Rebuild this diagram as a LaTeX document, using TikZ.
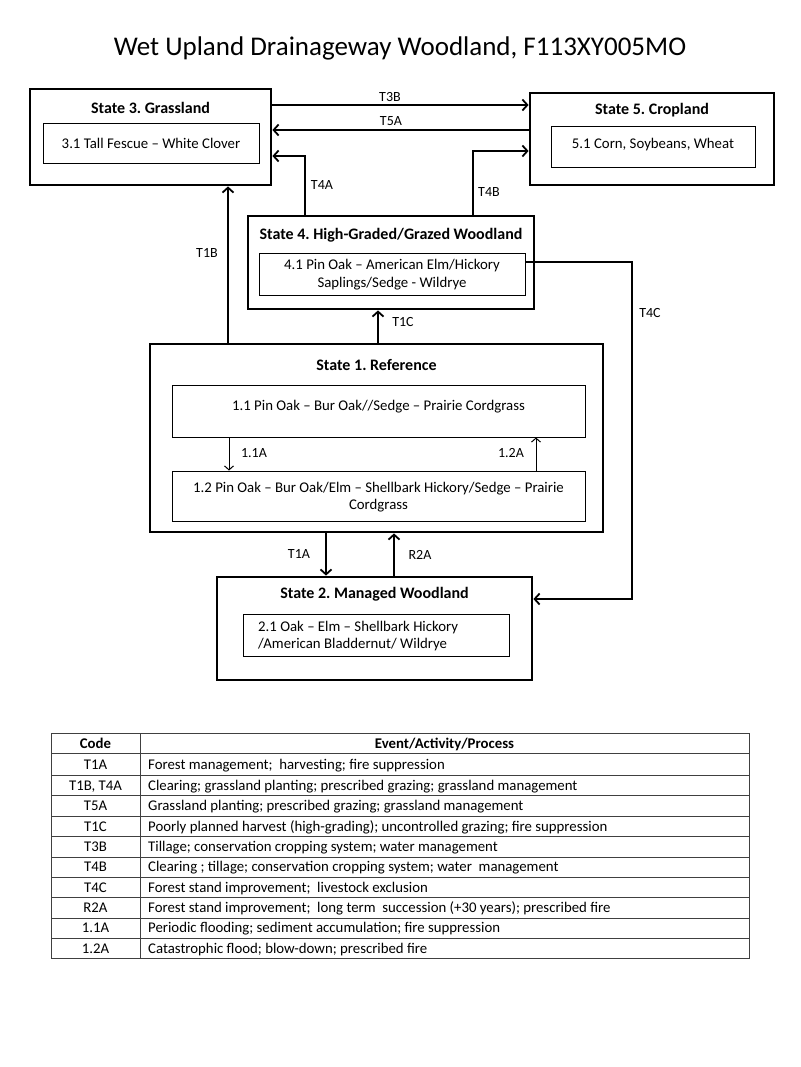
\documentclass[tikz,border=0pt]{standalone}
\usepackage{fontspec}
\setmainfont{Carlito}
\usetikzlibrary{arrows.meta,calc}
\frenchspacing
\begin{document}
\begin{tikzpicture}[x=1pt,y=-1pt,
  statebox/.style={draw, line width=2.8pt, rectangle, inner sep=0pt},
  innerbox/.style={draw, line width=0.9pt, rectangle, inner sep=0pt},
  stitle/.style={font=\fontsize{16}{18}\selectfont\bfseries\frenchspacing, inner sep=0pt, anchor=base, yshift=-5.2pt},
  itext/.style={font=\fontsize{14.8}{17.5}\selectfont\frenchspacing, inner sep=0pt, align=center},
  conn/.style={line width=2pt, -{Straight Barb[length=5pt,width=11pt,line width=1.8pt]}},
  thinconn/.style={line width=1pt, -{Straight Barb[length=4pt,width=9pt,line width=1pt]}},
  lbl/.style={font=\fontsize{14}{16}\selectfont, inner sep=0pt, anchor=base, yshift=-4.5pt},
  tline/.style={line width=0.9pt, draw=black!75},
  ttext/.style={font=\fontsize{14.8}{16}\selectfont\frenchspacing, inner sep=0pt, anchor=base, yshift=-4.8pt},
]
\useasboundingbox (0,0) rectangle (800,1067);
\fill[white] (0,0) rectangle (800,1067);

% title
\node[font=\fontsize{27}{30}\selectfont, inner sep=0pt, anchor=base, yshift=-8.7pt] (title) at (400,47) {Wet Upland Drainageway Woodland, F113XY005MO};

% state boxes
\node[statebox, minimum width=241pt, minimum height=96pt] (s3) at (150.5,137) {};
\node[statebox, minimum width=244pt, minimum height=92pt] (s5) at (652,139) {};
\node[statebox, minimum width=286pt, minimum height=93pt] (s4) at (391,262.5) {};
\node[statebox, minimum width=453pt, minimum height=188pt] (s1) at (376.5,438) {};
\node[statebox, minimum width=315pt, minimum height=103pt] (s2) at (374.5,628.5) {};

% titles
\node[stitle] (t3) at (150.5,108) {State 3. Grassland};
\node[stitle] (t5) at (652,109) {State 5. Cropland};
\node[stitle] (t4) at (391,234) {State 4. High-Graded/Grazed Woodland};
\node[stitle] (t1) at (376.5,365) {State 1. Reference};
\node[stitle] (t2) at (374.5,593) {State 2. Managed Woodland};

% inner boxes
\node[innerbox, minimum width=216pt, minimum height=40pt] (i3) at (151,143) {};
\node[innerbox, minimum width=204pt, minimum height=41pt] (i5) at (653,146.5) {};
\node[innerbox, minimum width=266pt, minimum height=42pt] (i4) at (392,274) {};
\node[innerbox, minimum width=413pt, minimum height=52pt] (i11) at (378.5,411) {};
\node[innerbox, minimum width=413pt, minimum height=50pt] (i12) at (378.5,496) {};
\node[innerbox, minimum width=266pt, minimum height=42pt] (i2) at (376,635) {};

% inner texts
\node[itext] (x3) at (151,143) {3.1 Tall Fescue -- White Clover};
\node[itext] (x5) at (653,145) {5.1 Corn, Soybeans, Wheat};
\node[itext] (x4) at (392,274.5) {4.1 Pin Oak -- American Elm/Hickory\\Saplings/Sedge - Wildrye};
\node[itext] (x11) at (378.5,407) {1.1 Pin Oak -- Bur Oak//Sedge -- Prairie Cordgrass};
\node[itext] (x12) at (378.5,497) {1.2 Pin Oak -- Bur Oak/Elm -- Shellbark Hickory/Sedge -- Prairie\\Cordgrass};
\node[itext, align=left, anchor=west] (x2) at (258,636) {2.1 Oak -- Elm -- Shellbark Hickory\\/American Bladdernut/ Wildrye};

% connectors
\draw[conn] (s3.east |- 0,105) -- (s5.west |- 0,105);
\node[lbl] (lT3B) at (390,97) {T3B};
\draw[conn] (s5.west |- 0,130) -- (s3.east |- 0,130);
\node[lbl] (lT5A) at (391,121) {T5A};
\draw[conn] (s4.north -| 305,0) |- (s3.east |- 0,156);
\node[lbl] (lT4A) at (322,185) {T4A};
\draw[conn] (s4.north -| 473,0) |- (s5.west |- 0,151);
\node[lbl] (lT4B) at (489,192) {T4B};
\draw[conn] (s1.north -| 228,0) -- (s3.south -| 228,0);
\node[lbl] (lT1B) at (207,253) {T1B};
\draw[conn] (s1.north -| 378,0) -- (s4.south -| 378,0);
\node[lbl] (lT1C) at (403,322) {T1C};
\draw[conn] (i4.east |- 0,262) -- (632,262) |- (s2.east |- 0,599);
\node[lbl] (lT4C) at (650,313) {T4C};
\draw[thinconn] (i11.south -| 229,0) -- (i12.north -| 229,0);
\node[lbl] (l11A) at (254,453) {1.1A};
\draw[thinconn] (i12.north -| 536,0) -- (i11.south -| 536,0);
\node[lbl] (l12A) at (511,453) {1.2A};
\draw[conn] (s1.south -| 326,0) -- (s2.north -| 326,0);
\node[lbl] (lT1A) at (299,554) {T1A};
\draw[conn] (s2.north -| 394,0) -- (s1.south -| 394,0);
\node[lbl] (lR2A) at (420,555) {R2A};

% table
\def\tL{51}\def\tM{140}\def\tR{749}
\foreach \yy in {733,753.5,775,795.5,816,836.5,857,877,897.5,918,938,958.5}
  \draw[tline] (\tL,\yy) -- (\tR,\yy);
\draw[tline] (\tL,733) -- (\tL,958.5);
\draw[tline] (\tM,733) -- (\tM,958.5);
\draw[tline] (\tR,733) -- (\tR,958.5);
\node[ttext, font=\fontsize{14.8}{16}\selectfont\bfseries] (hc) at (95.5,743.5) {Code};
\node[ttext, font=\fontsize{14.8}{16}\selectfont\bfseries] (he) at (444.5,743.5) {Event/Activity/Process};
\foreach \n/\yy/\c/\e in {
  1/764.5/T1A/{Forest management;\ \ harvesting; fire suppression},
  2/785.5/{T1B, T4A}/{Clearing; grassland planting; prescribed grazing; grassland management},
  3/806/T5A/{Grassland planting; prescribed grazing; grassland management},
  4/826.5/T1C/{Poorly planned harvest (high-grading); uncontrolled grazing; fire suppression},
  5/847/T3B/{Tillage; conservation cropping system; water management},
  6/867/T4B/{Clearing ; tillage; conservation cropping system; water\ \ management},
  7/887.5/T4C/{Forest stand improvement;\ \ livestock exclusion},
  8/908/R2A/{Forest stand improvement;\ \ long term\ \ succession (+30 years); prescribed fire},
  9/928/1.1A/{Periodic flooding; sediment accumulation; fire suppression},
  10/948.5/1.2A/{Catastrophic flood; blow-down; prescribed fire}}
{
  \node[ttext] (c\n) at (95.5,\yy) {\c};
  \node[ttext, anchor=base west] (e\n) at (148,\yy) {\e};
}
\end{tikzpicture}
\end{document}
